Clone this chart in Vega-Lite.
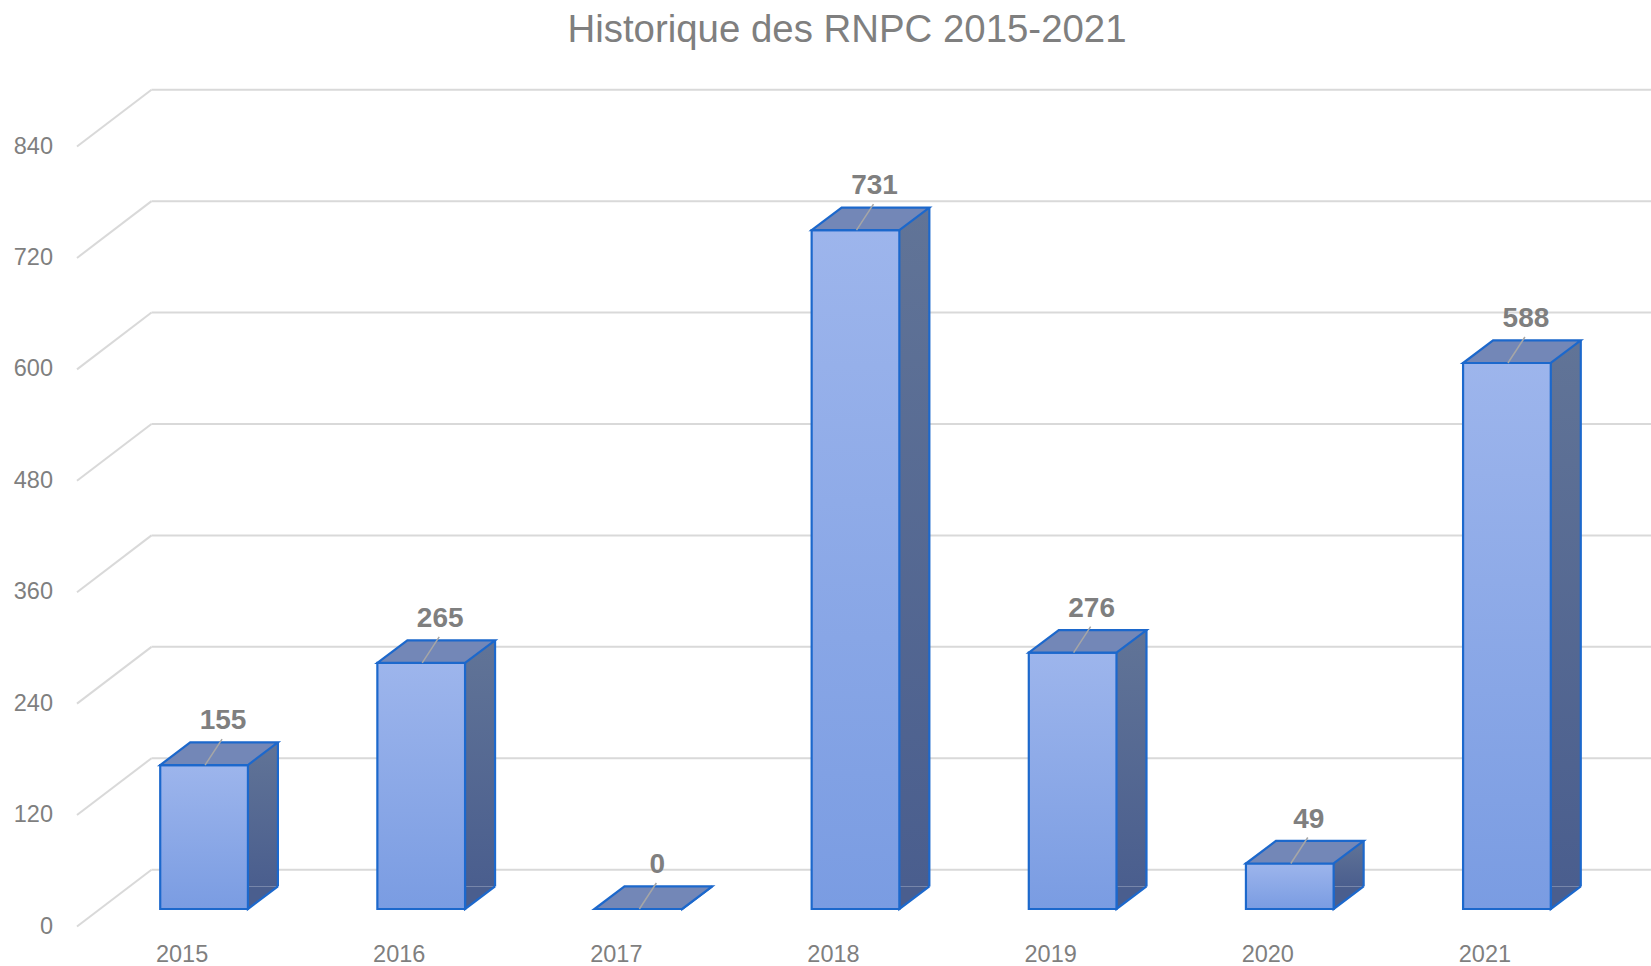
{
  "$schema": "https://vega.github.io/schema/vega-lite/v6.json",
  "width": 1530,
  "height": 780,
  "autosize": {"type": "none"},
  "padding": {"left": 90.5, "top": 129, "right": 30, "bottom": 57},
  "background": "white",
  "config": {"view": {"stroke": null}, "font": "Liberation Sans"},
  "title": {
    "text": "Historique des RNPC 2015-2021",
    "font": "Liberation Sans",
    "fontSize": 38.4,
    "fontWeight": "normal",
    "color": "#7f7f7f",
    "anchor": "middle",
    "frame": "group",
    "dx": -8.5,
    "baseline": "alphabetic",
    "offset": 8
  },
  "datasets": {
    "rnpc": [
      {"year": 2015, "value": 155},
      {"year": 2016, "value": 265},
      {"year": 2017, "value": 0},
      {"year": 2018, "value": 731},
      {"year": 2019, "value": 276},
      {"year": 2020, "value": 49},
      {"year": 2021, "value": 588}
    ],
    "grid": [
      {"v": 0}, {"v": 120}, {"v": 240}, {"v": 360}, {"v": 480}, {"v": 600}, {"v": 720}, {"v": 840}
    ]
  },
  "layer": [
    {
      "data": {"name": "grid"},
      "mark": {"type": "rule", "color": "#d9d9d9", "strokeWidth": 2, "xOffset": 56, "x2Offset": 40, "yOffset": -39.3},
      "encoding": {
        "x": {"datum": 2014.5, "type": "quantitative", "scale": {"domain": [2014.5, 2021.5], "nice": false, "zero": false}, "axis": null},
        "x2": {"datum": 2021.5},
        "y": {"field": "v", "type": "quantitative", "scale": {"domain": [0, 840], "nice": false}, "axis": null}
      }
    },
    {
      "data": {"name": "grid"},
      "mark": {"type": "rule", "color": "#d9d9d9", "strokeWidth": 2, "xOffset": -18.5, "x2Offset": 56, "yOffset": 17.5, "y2Offset": -39.3},
      "encoding": {
        "x": {"datum": 2014.5, "type": "quantitative", "scale": {"domain": [2014.5, 2021.5], "nice": false, "zero": false}, "axis": null},
        "x2": {"datum": 2014.5},
        "y": {"field": "v", "type": "quantitative", "scale": {"domain": [0, 840], "nice": false}, "axis": null},
        "y2": {"field": "v"}
      }
    },
    {
      "data": {"name": "grid"},
      "mark": {"type": "text", "font": "Liberation Sans", "fontSize": 23.5, "color": "#7f7f7f", "align": "right", "baseline": "middle", "dx": -42.5, "dy": 17.5},
      "encoding": {
        "x": {"datum": 2014.5, "type": "quantitative", "scale": {"domain": [2014.5, 2021.5], "nice": false, "zero": false}, "axis": null},
        "y": {"field": "v", "type": "quantitative", "scale": {"domain": [0, 840], "nice": false}, "axis": null},
        "text": {"field": "v", "type": "quantitative", "format": "d"}
      }
    },
    {
      "data": {"name": "rnpc"},
      "mark": {"type": "text", "font": "Liberation Sans", "fontSize": 23.5, "color": "#7f7f7f", "align": "center", "baseline": "alphabetic", "dx": -22, "dy": 53},
      "encoding": {
        "x": {"field": "year", "type": "quantitative", "scale": {"domain": [2014.5, 2021.5], "nice": false, "zero": false}, "axis": null},
        "y": {"datum": 0, "type": "quantitative", "scale": {"domain": [0, 840], "nice": false}, "axis": null},
        "text": {"field": "year", "type": "ordinal"}
      }
    },
    {
      "data": {"name": "rnpc"},
      "mark": {
        "type": "bar", "width": 30, "xOffset": 58.85, "yOffset": -22.6, "y2Offset": -22.6,
        "fill": {"gradient": "linear", "x1": 0, "y1": 0, "x2": 0, "y2": 1, "stops": [{"offset": 0, "color": "#617497"}, {"offset": 1, "color": "#4a5e8e"}]},
        "strokeWidth": 0
      },
      "encoding": {
        "x": {"field": "year", "type": "quantitative", "scale": {"domain": [2014.5, 2021.5], "nice": false, "zero": false}, "axis": null},
        "y": {"field": "value", "type": "quantitative", "scale": {"domain": [0, 840], "nice": false}, "axis": null},
        "y2": {"datum": 0}
      }
    },
    {
      "data": {"name": "rnpc"},
      "mark": {
        "type": "point", "shape": "M 43.85 -22.6 L 43.85 0 L 73.85 -22.6", "size": 4, "filled": true, "opacity": 1,
        "fill": "#4a5e8e", "stroke": "#1c68cc", "strokeWidth": 2.2
      },
      "encoding": {
        "x": {"field": "year", "type": "quantitative", "scale": {"domain": [2014.5, 2021.5], "nice": false, "zero": false}, "axis": null},
        "y": {"datum": 0, "type": "quantitative", "scale": {"domain": [0, 840], "nice": false}, "axis": null}
      }
    },
    {
      "data": {"name": "rnpc"},
      "mark": {"type": "rule", "color": "#1c68cc", "strokeWidth": 2.2, "xOffset": 73.85, "yOffset": -22.6, "y2Offset": -22.6},
      "encoding": {
        "x": {"field": "year", "type": "quantitative", "scale": {"domain": [2014.5, 2021.5], "nice": false, "zero": false}, "axis": null},
        "y": {"field": "value", "type": "quantitative", "scale": {"domain": [0, 840], "nice": false}, "axis": null},
        "y2": {"datum": 0}
      }
    },
    {
      "data": {"name": "rnpc"},
      "mark": {
        "type": "bar", "width": 87.7,
        "fill": {"gradient": "linear", "x1": 0, "y1": 0, "x2": 0, "y2": 1, "stops": [{"offset": 0, "color": "#9db5ec"}, {"offset": 1, "color": "#7a9ce2"}]},
        "stroke": "#1c68cc", "strokeWidth": 2.2
      },
      "encoding": {
        "x": {"field": "year", "type": "quantitative", "scale": {"domain": [2014.5, 2021.5], "nice": false, "zero": false}, "axis": null},
        "y": {"field": "value", "type": "quantitative", "scale": {"domain": [0, 840], "nice": false}, "axis": null},
        "y2": {"datum": 0}
      }
    },
    {
      "data": {"name": "rnpc"},
      "mark": {
        "type": "point", "shape": "M -43.85 0 L 43.85 0 L 73.85 -22.6 L -13.85 -22.6 Z", "size": 4, "filled": true, "opacity": 1,
        "fill": "#7387b7", "stroke": "#1c68cc", "strokeWidth": 2.2
      },
      "encoding": {
        "x": {"field": "year", "type": "quantitative", "scale": {"domain": [2014.5, 2021.5], "nice": false, "zero": false}, "axis": null},
        "y": {"field": "value", "type": "quantitative", "scale": {"domain": [0, 840], "nice": false}, "axis": null}
      }
    },
    {
      "data": {"name": "rnpc"},
      "mark": {"type": "rule", "color": "#a6a6a6", "strokeWidth": 1.5, "xOffset": 1, "x2Offset": 18, "y2Offset": -26},
      "encoding": {
        "x": {"field": "year", "type": "quantitative", "scale": {"domain": [2014.5, 2021.5], "nice": false, "zero": false}, "axis": null},
        "x2": {"field": "year"},
        "y": {"field": "value", "type": "quantitative", "scale": {"domain": [0, 840], "nice": false}, "axis": null},
        "y2": {"field": "value"}
      }
    },
    {
      "data": {"name": "rnpc"},
      "mark": {"type": "text", "font": "Liberation Sans", "fontSize": 28, "fontWeight": "bold", "color": "#7f7f7f", "align": "center", "baseline": "alphabetic", "dx": 19, "dy": -36},
      "encoding": {
        "x": {"field": "year", "type": "quantitative", "scale": {"domain": [2014.5, 2021.5], "nice": false, "zero": false}, "axis": null},
        "y": {"field": "value", "type": "quantitative", "scale": {"domain": [0, 840], "nice": false}, "axis": null},
        "text": {"field": "value", "type": "quantitative"}
      }
    }
  ]
}
